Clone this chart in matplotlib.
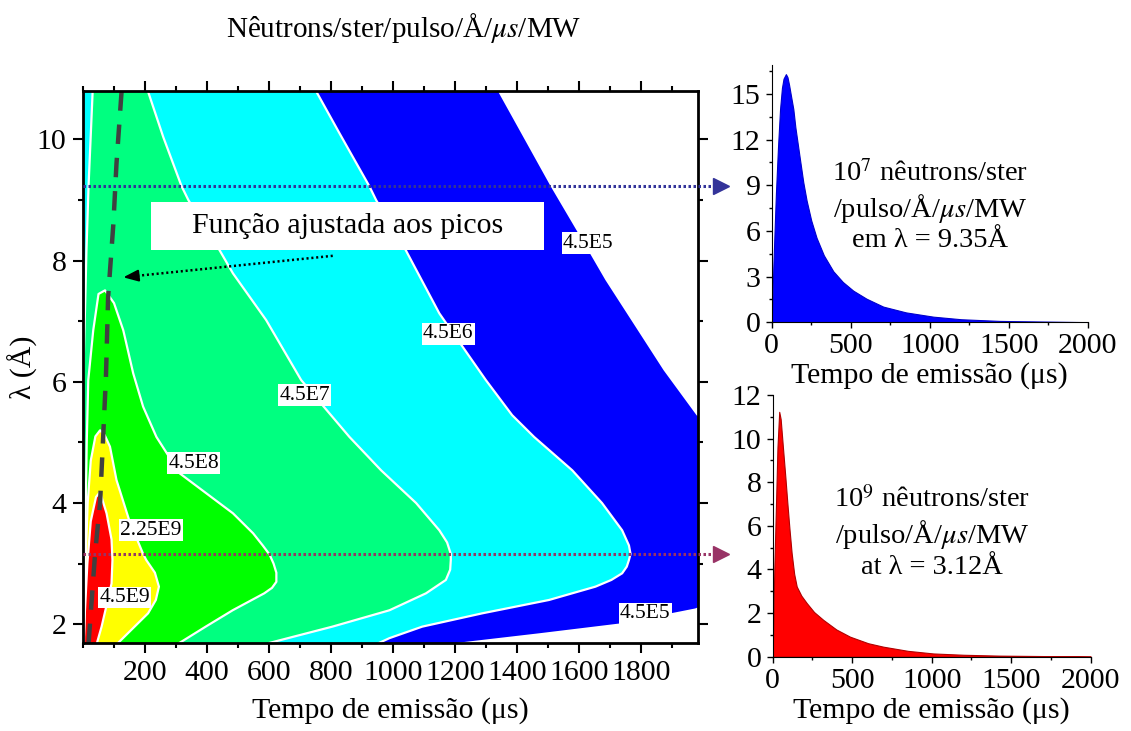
import matplotlib
matplotlib.use("Agg")
import matplotlib.pyplot as plt
from matplotlib.patches import Rectangle
from matplotlib.ticker import MultipleLocator

plt.rcParams["font.family"] = ["Liberation Serif", "DejaVu Serif"]
plt.rcParams["mathtext.fontset"] = "stix"
plt.rcParams["lines.scale_dashes"] = False

# contour levels (time in us, wavelength in A)
levels = ["4.5E5", "4.5E6", "4.5E7", "4.5E8", "2.25E9", "4.5E9"]
colors = ["#0000ff", "#00ffff", "#00ff80", "#00ff00", "#ffff00", "#ff0000"]

c5_t = [1203, 1472, 1729, 1976, 2150, 2250, 2150, 1980, 1874, 1686, 1593, 1509, 1343, 1328]
c5_lam = [1.69, 1.85, 2.01, 2.26, 2.6, 3.4, 4.6, 5.45, 6.19, 7.68, 8.5, 9.23, 10.76, 10.9]

c6_t = [955, 989, 1095, 1289, 1504, 1654, 1705, 1740, 1755, 1762, 1767, 1762, 1740, 1675,
        1579, 1456, 1385, 1300, 1150, 1042, 946, 924, 828, 752, 740]
c6_lam = [1.69, 1.77, 1.96, 2.18, 2.40, 2.62, 2.73, 2.84, 2.95, 3.06, 3.16, 3.3, 3.55, 4.0,
          4.54, 5.09, 5.45, 6.03, 7.13, 8.17, 9.0, 9.23, 10.1, 10.8, 10.9]

c7_t = [601, 805, 989, 1107, 1171, 1185, 1187, 1187, 1175, 1150, 1075, 962, 860, 704, 591,
        484, 441, 340, 318, 259, 210, 200]
c7_lam = [1.69, 1.96, 2.23, 2.51, 2.73, 2.9, 3.06, 3.16, 3.35, 3.55, 4.0, 4.54, 5.09, 6.03,
          7.02, 7.79, 8.17, 9.0, 9.23, 10.04, 10.79, 10.9]
c7l_t = [32, 18, 11, 8, 3, -20]
c7l_lam = [10.9, 9.25, 8.15, 7.5, 6.5, 1.69]

c8_t = [311, 396, 483, 585, 610, 624, 624, 615, 602, 580, 549, 484, 398, 312, 237, 194, 162,
        130, 100, 71]
c8_lam = [1.69, 1.96, 2.23, 2.51, 2.6, 2.7, 2.85, 3.0, 3.15, 3.3, 3.5, 3.83, 4.16, 4.49, 5.09,
          5.59, 6.14, 6.85, 7.3, 7.51]
c8l_t = [50, 33, 17, 12, 9, 5, 2]
c8l_lam = [7.45, 6.85, 6.03, 5.0, 4.0, 3.0, 1.69]

c9_t = [113, 210, 235, 245, 232, 204, 194, 150, 108, 87, 70, 55]
c9_lam = [1.69, 2.18, 2.4, 2.62, 2.85, 3.06, 3.16, 3.7, 4.38, 4.93, 5.12, 5.20]
c9l_t = [40, 25, 15, 8, 3]
c9l_lam = [5.1, 4.7, 4.0, 3.0, 1.69]

c10_t = [45, 60, 80, 92, 95, 92, 76, 55]
c10_lam = [1.69, 1.96, 2.40, 2.67, 3.06, 3.4, 3.83, 4.18]
c10l_t = [42, 25, 14, 6, 2]
c10l_lam = [4.1, 3.7, 3.0, 2.2, 1.69]

# fitted peak positions
fit_t = [18, 39, 55, 65, 74, 81, 98, 108, 124, 126]
fit_lam = [1.69, 3.17, 4.0, 5.09, 6.08, 7.40, 8.61, 9.6, 10.76, 10.85]

# label positions (t, lambda)
lab_t = [1631, 1179, 715, 357, 219, 134, 1815]
lab_lam = [8.29, 6.79, 5.78, 4.66, 3.55, 2.44, 2.18]
lab_txt = ["4.5E5", "4.5E6", "4.5E7", "4.5E8", "2.25E9", "4.5E9", "4.5E5"]

# spectra
sp1_t = [0, 5, 10, 20, 27, 40, 53, 65, 75, 90, 100, 110, 120, 137, 150, 179, 200, 221, 250,
         284, 330, 390, 450, 516, 600, 706, 850, 1023, 1200, 1445, 2000]
sp1_v = [0, 1.5, 3.5, 6.5, 8.5, 11.5, 14.0, 15.4, 16.0, 16.3, 16.1, 15.6, 15.0, 14.0, 12.8,
         10.7, 9.2, 8.0, 6.7, 5.55, 4.4, 3.35, 2.65, 2.08, 1.55, 1.03, 0.65, 0.37, 0.2, 0.09, 0.01]

sp2_t = [0, 10, 21, 30, 41, 50, 67, 80, 92, 105, 119, 135, 151, 180, 214, 260, 318, 400, 486,
         600, 696, 850, 1010, 1200, 1430, 2000]
sp2_v = [0, 4.0, 7.06, 9.6, 11.23, 10.9, 9.36, 8.2, 7.06, 5.9, 4.76, 3.8, 3.22, 2.8, 2.46,
         2.05, 1.69, 1.25, 0.92, 0.62, 0.46, 0.27, 0.15, 0.09, 0.05, 0.01]

lam_blue = 9.23
lam_red = 3.16

FS = 21.5

fig = plt.figure(figsize=(11.31, 7.31), dpi=100)
ax = fig.add_axes([0.0734, 0.1204, 0.5438, 0.7551])
ax1 = fig.add_axes([0.6823, 0.5591, 0.2794, 0.352])
ax2 = fig.add_axes([0.6832, 0.1016, 0.2812, 0.358])

# filled contours, outer to inner
rights = [(c5_t, c5_lam), (c6_t, c6_lam), (c7_t, c7_lam), (c8_t, c8_lam), (c9_t, c9_lam),
          (c10_t, c10_lam)]
lefts = [([-20, -20], [10.9, 1.69]), ([-20, -20], [10.9, 1.69]), (c7l_t, c7l_lam),
         (c8l_t, c8l_lam), (c9l_t, c9l_lam), (c10l_t, c10l_lam)]
for (rt, rl), (lt, ll), col in zip(rights, lefts, colors):
    ax.fill(list(rt) + list(lt), list(rl) + list(ll), color=col, lw=0)
for i, ((rt, rl), (lt, ll)) in enumerate(zip(rights, lefts)):
    if i == 0:
        continue
    ax.plot(list(rt) + list(lt), list(rl) + list(ll), color="white", lw=1.6,
            solid_joinstyle="round")

ax.plot(fit_t, fit_lam, color="#404040", lw=3.2, dashes=(14, 10))

for t, l, s in zip(lab_t, lab_lam, lab_txt):
    ax.text(t, l, s, fontsize=15.5, ha="center", va="center",
            bbox=dict(facecolor="white", edgecolor="none", pad=1))

ax.add_patch(Rectangle((219, 8.17), 1269, 0.795, facecolor="white", edgecolor="none", zorder=4))
ax.text(853, 8.57, "Função ajustada aos picos", fontsize=FS, ha="center", va="center", zorder=5)
ax.plot([806, 150], [8.08, 7.737], color="black", lw=1.8, dashes=(1.5, 2), zorder=6)
ax.annotate("", xy=(121, 7.72), xytext=(160, 7.742),
            arrowprops=dict(arrowstyle="-|>,head_length=0.9,head_width=0.35", color="black",
                            lw=1.5), zorder=6)

# guide lines to the spectra
ax.plot([0, 2030], [lam_blue, lam_blue], color="#333399", lw=2.2, dashes=(1.8, 1.8),
        clip_on=False, zorder=6)
ax.plot([2060], [lam_blue], marker=">", color="#333399", ms=11, clip_on=False, zorder=6)
ax.plot([0, 2030], [lam_red, lam_red], color="#993366", lw=2.2, dashes=(1.8, 1.8),
        clip_on=False, zorder=6)
ax.plot([2060], [lam_red], marker=">", color="#993366", ms=11, clip_on=False, zorder=6)

ax.set_xlim(0, 1985)
ax.set_ylim(1.69, 10.8)
ax.xaxis.set_major_locator(MultipleLocator(200))
ax.xaxis.set_minor_locator(MultipleLocator(100))
ax.yaxis.set_major_locator(MultipleLocator(2))
ax.yaxis.set_minor_locator(MultipleLocator(1))
ax.set_xticks([200, 400, 600, 800, 1000, 1200, 1400, 1600, 1800])
ax.tick_params(which="both", direction="out", top=True, right=True, labelsize=FS, width=1.5)
ax.tick_params(which="major", length=7, pad=5)
ax.tick_params(which="minor", length=3.5)
for sp in ax.spines.values():
    sp.set_linewidth(2)
ax.set_xlabel("Tempo de emissão (μs)", fontsize=FS, labelpad=8)
ax.set_ylabel("λ (Å)", fontsize=FS)
ax.yaxis.set_label_coords(-0.074, 0.5)

fig.text(404 / 1131, 1 - 28 / 731, r"Nêutrons/ster/pulso/Å/$\mu s$/MW", fontsize=21,
         ha="center", va="center")

# spectra panels
ax1.fill_between(sp1_t, sp1_v, color="#0000ff", edgecolor="#0000cc", lw=0.8)
ax1.set_xlim(0, 2000)
ax1.set_ylim(0, 16.9)
ax1.yaxis.set_major_locator(MultipleLocator(3))
ax1.yaxis.set_minor_locator(MultipleLocator(1.5))
ax1.text(0.5, 0.45, "10$^7$ nêutrons/ster\n/pulso/Å/$\\mu s$/MW\nem λ = 9.35Å", fontsize=20.5,
         ha="center", va="center", transform=ax1.transAxes, linespacing=1.2)

ax2.fill_between(sp2_t, sp2_v, color="#ff0000", edgecolor="#b00000", lw=0.8)
ax2.set_xlim(0, 2000)
ax2.set_ylim(0, 12)
ax2.yaxis.set_major_locator(MultipleLocator(2))
ax2.yaxis.set_minor_locator(MultipleLocator(1))
ax2.text(0.5, 0.473, "10$^9$ nêutrons/ster\n/pulso/Å/$\\mu s$/MW\nat λ = 3.12Å", fontsize=20.5,
         ha="center", va="center", transform=ax2.transAxes, linespacing=1.2)

for a in (ax1, ax2):
    a.xaxis.set_major_locator(MultipleLocator(500))
    a.xaxis.set_minor_locator(MultipleLocator(250))
    a.spines["top"].set_visible(False)
    a.spines["right"].set_visible(False)
    a.tick_params(which="both", direction="out", labelsize=FS, width=1)
    a.tick_params(which="major", length=4, pad=4)
    a.tick_params(which="minor", length=2.5)
    a.set_xlabel("Tempo de emissão (μs)", fontsize=FS, labelpad=2)

fig.savefig("out.png", dpi=100)
